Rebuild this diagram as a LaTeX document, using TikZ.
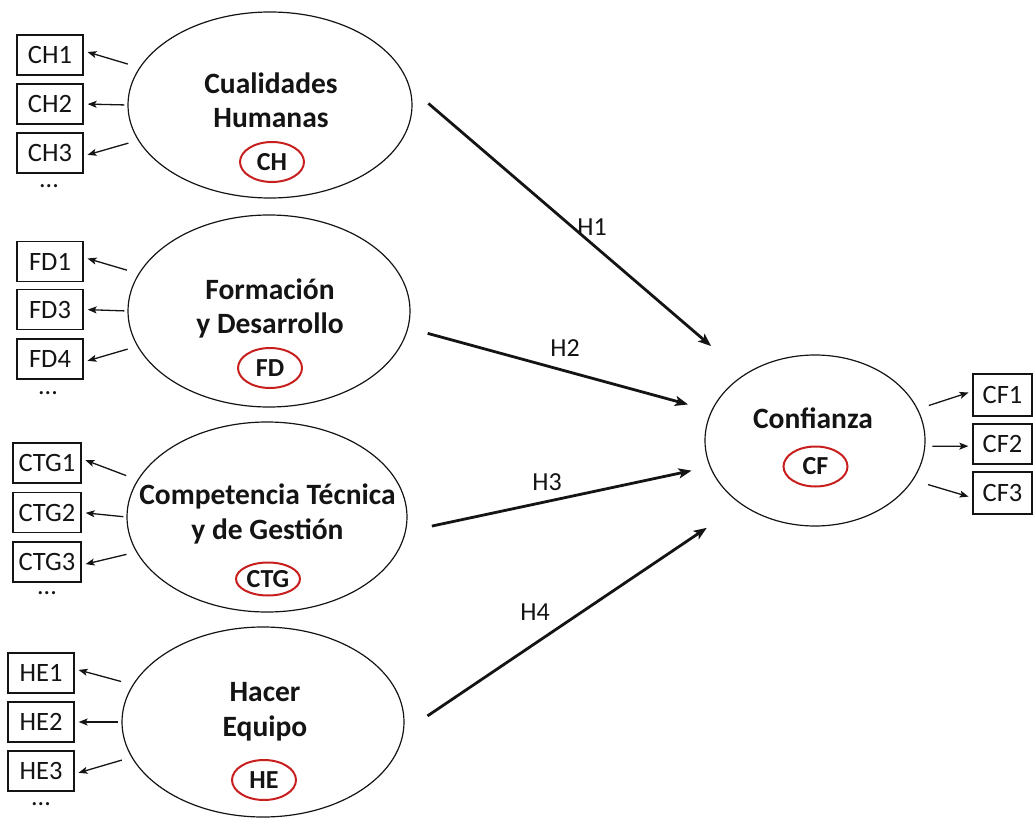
\documentclass[tikz,border=0pt]{standalone}
\usepackage{fontspec}
\setmainfont{Carlito}
\usetikzlibrary{arrows.meta,shapes.geometric}
\definecolor{codered}{RGB}{200,30,30}
\definecolor{ink}{RGB}{20,20,20}
\begin{document}
\begin{tikzpicture}[x=1pt,y=-1pt,
  construct/.style={draw=ink, ellipse, line width=1.2pt, inner sep=0pt},
  indicator/.style={draw=ink, rectangle, line width=1.3pt, minimum width=66pt,
    minimum height=40pt, inner sep=0pt, text=ink, font=\fontsize{26.5}{30}\selectfont},
  codemark/.style={draw=codered, ellipse, line width=2pt, minimum width=64pt,
    minimum height=40pt, inner sep=0pt, text=ink, font=\bfseries\fontsize{26}{30}\selectfont},
  ctitle/.style={align=center, inner sep=0pt, text=ink, font=\bfseries\fontsize{29.5}{34.5}\selectfont},
  moredots/.style={inner sep=0pt, text=ink, font=\fontsize{26}{30}\selectfont},
  hlabel/.style={inner sep=0pt, text=ink, font=\fontsize{26}{30}\selectfont},
  loading/.style={draw=ink, line width=1.3pt, -{Stealth[length=9pt,width=7pt,inset=2pt]}},
  effect/.style={draw=ink, line width=2.8pt, -{Stealth[length=13pt,width=10pt,inset=3pt]}}
]
\useasboundingbox (0,0) rectangle (1033,818);

% latent constructs
\node[construct, minimum width=284pt, minimum height=186pt] (CH)  at (270,105) {};
\node[construct, minimum width=282pt, minimum height=192pt] (FD)  at (269,311) {};
\node[construct, minimum width=280pt, minimum height=190pt] (CTG) at (267,517) {};
\node[construct, minimum width=282pt, minimum height=190pt] (HE)  at (263,722) {};
\node[construct, minimum width=220pt, minimum height=171pt] (CF)  at (815,440.5) {};

% construct names
\node[ctitle] (CHt)  at (271,100.2) {Cualidades\\Humanas};
\node[ctitle] (FDt)  at (270,308.5) {Formación\\y Desarrollo};
\node[ctitle] (CTGt) at (267.5,514.2) {Competencia Técnica\\y de Gestión};
\node[ctitle] (HEt)  at (265,711.8) {Hacer\\Equipo};
\node[ctitle] (CFt)  at (813,418.2) {Confianza};

% abbreviations
\node[codemark] (CHc)  at (272,162) {CH};
\node[codemark] (FDc)  at (270,368) {FD};
\node[codemark, minimum height=33pt] (CTGc) at (268,579) {CTG};
\node[codemark] (HEc)  at (264,780) {HE};
\node[codemark] (CFc)  at (815.5,466.5) {CF};

% indicators
\node[indicator] (CH1) at (50,55) {CH1};
\node[indicator] (CH2) at (50,104) {CH2};
\node[indicator] (CH3) at (50,153) {CH3};
\node[moredots] (CHd) at (49,186) {...};

\node[indicator] (FD1) at (50,261.5) {FD1};
\node[indicator] (FD3) at (50,309.5) {FD3};
\node[indicator] (FD4) at (50,359) {FD4};
\node[moredots] (FDd) at (48,393) {...};

\node[indicator, minimum width=68pt] (CTG1) at (47,463) {CTG1};
\node[indicator, minimum width=68pt] (CTG2) at (47,512.5) {CTG2};
\node[indicator, minimum width=68pt] (CTG3) at (47,562) {CTG3};
\node[moredots] (CTGd) at (47,593) {...};

\node[indicator] (HE1) at (41,673) {HE1};
\node[indicator] (HE2) at (41,722) {HE2};
\node[indicator] (HE3) at (41,771) {HE3};
\node[moredots] (HEd) at (41,804) {...};

\node[indicator, minimum width=59pt, minimum height=42pt] (CF1) at (1002.5,395) {CF1};
\node[indicator, minimum width=59pt] (CF2) at (1002.5,444) {CF2};
\node[indicator, minimum width=59pt, minimum height=42pt] (CF3) at (1002.5,493) {CF3};

% reflective loadings
\foreach \c/\a/\b/\d in {CH/CH1/CH2/CH3, FD/FD1/FD3/FD4, CTG/CTG1/CTG2/CTG3, HE/HE1/HE2/HE3}{
  \draw[loading, shorten <=12pt, shorten >=4pt] (\c.164) -- (\a.7);
  \draw[loading, shorten <=3pt, shorten >=4pt] (\c.180) -- (\b.east);
  \draw[loading, shorten <=10pt, shorten >=4pt] (\c.195) -- (\d.355);
}
\draw[loading, shorten <=11.5pt, shorten >=4pt] (CF.17) -- (CF1.173);
\draw[loading, shorten <=7pt, shorten >=4pt] (CF.357) -- (CF2.184);
\draw[loading, shorten <=15.5pt, shorten >=4pt] (CF.338) -- (CF3.189);

% structural paths
\draw[effect, shorten <=24pt, shorten >=43.5pt] (CH.7) -- (CF.137.6);
\draw[effect, shorten <=20pt, shorten >=24pt] (FD.-7.4) -- (CF.164.9);
\draw[effect, shorten <=26.5pt, shorten >=18.5pt] (CTG.-6.4) -- (CF.194.9);
\draw[effect, shorten <=28.5pt, shorten >=41.5pt] (HE.-4) -- (CF.221.6);

\node[hlabel] (H1) at (592,227) {H1};
\node[hlabel] (H2) at (565,348) {H2};
\node[hlabel] (H3) at (547,482) {H3};
\node[hlabel] (H4) at (535,612) {H4};
\end{tikzpicture}
\end{document}
